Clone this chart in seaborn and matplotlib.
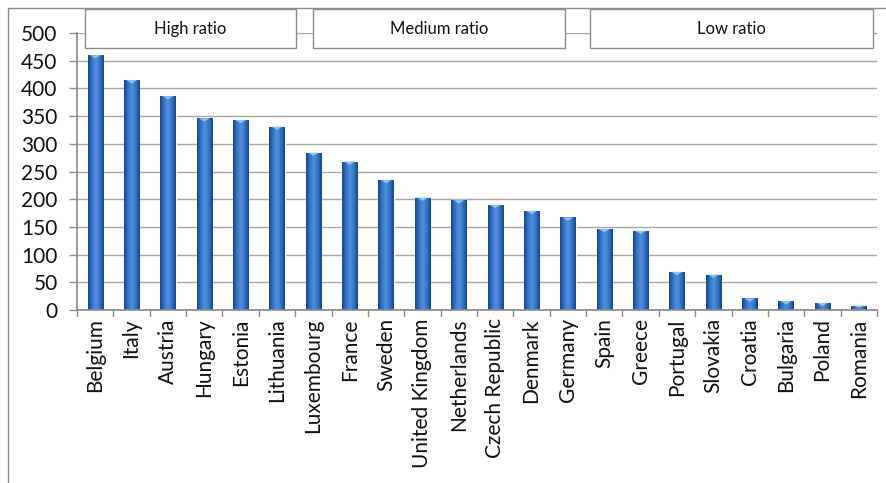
import numpy as np
import pandas as pd
import matplotlib
matplotlib.use("Agg")
import matplotlib.pyplot as plt
import seaborn as sns
from matplotlib.patches import Rectangle
from matplotlib.lines import Line2D
from matplotlib.colors import LinearSegmentedColormap

countries = ["Belgium", "Italy", "Austria", "Hungary", "Estonia", "Lithuania",
             "Luxembourg", "France", "Sweden", "United Kingdom", "Netherlands",
             "Czech Republic", "Denmark", "Germany", "Spain", "Greece", "Portugal",
             "Slovakia", "Croatia", "Bulgaria", "Poland", "Romania"]
values = [460, 415, 386, 346, 343, 331, 284, 268, 235, 203, 198, 190, 179, 167,
          146, 143, 69, 64, 21, 16, 13, 8]
y_ticks = [0, 50, 100, 150, 200, 250, 300, 350, 400, 450, 500]
group_labels = ["High ratio", "Medium ratio", "Low ratio"]
group_first = ["Belgium", "Luxembourg", "Spain"]
group_last = ["Lithuania", "Germany", "Romania"]

# layout: box edge offsets (in category units) relative to first/last bar
box_left_off = [-0.28, -0.01, -0.39]
box_right_off = [0.52, -0.08, 0.39]

df = pd.DataFrame({"country": countries, "value": values})

sns.set_theme(style="white")
plt.rcParams["font.family"] = ["Lato", "DejaVu Sans"]

fig = plt.figure(figsize=(8.87, 4.83), dpi=100)
ax = fig.add_axes([77 / 887, 1 - 310 / 483, 800 / 887, 277 / 483])

sns.barplot(data=df, x="country", y="value", color="#2A66B8", width=0.42,
            saturation=1, ax=ax, zorder=3)

# gradient shading on bars
cmap = LinearSegmentedColormap.from_list(
    "bar", ["#17468A", "#3373C8", "#5290DC", "#3373C8", "#17468A"])
grad = np.linspace(0, 1, 64).reshape(1, -1)
for p in ax.patches:
    x0, y0 = p.get_x(), p.get_y()
    w, h = p.get_width(), p.get_height()
    im = ax.imshow(grad, cmap=cmap, aspect="auto",
                   extent=(x0, x0 + w, y0, y0 + h), zorder=4)
    im.set_clip_path(p)
    cap = min(6.0, h * 0.5)
    tri = plt.Polygon([(x0 + w * 0.15, y0 + h), (x0 + w * 0.85, y0 + h),
                       (x0 + w * 0.5, y0 + h - cap)],
                      closed=True, facecolor="#8CC4F2", edgecolor="none", zorder=5)
    ax.add_patch(tri)

ax.set_xlim(-0.5, len(countries) - 0.5)
ax.set_ylim(0, 500)
ax.set_yticks(y_ticks)
ax.set_yticklabels([str(v) for v in y_ticks], fontsize=15, color="#111111")
ax.set_xlabel("")
ax.set_ylabel("")
ax.tick_params(axis="x", labelrotation=90, labelsize=15, labelcolor="#111111",
               length=0, pad=6)
ax.tick_params(axis="y", length=6, width=1, color="#8C8C8C", pad=8, left=True)

ax.grid(axis="y", color="#A6A6A6", linewidth=1.0, zorder=0)
ax.set_axisbelow(True)
for s in ["top", "right"]:
    ax.spines[s].set_visible(False)
ax.spines["left"].set_color("#8C8C8C")
ax.spines["bottom"].set_color("#8C8C8C")
ax.spines["left"].set_zorder(6)
ax.spines["bottom"].set_zorder(6)

# boundary tick marks below the x axis
trans = ax.get_xaxis_transform()
for b in np.arange(-0.5, len(countries), 1.0):
    ax.add_line(Line2D([b, b], [0, -0.02], transform=trans, color="#8C8C8C",
                       linewidth=1, clip_on=False))

# group label boxes above the plot
idx = {c: i for i, c in enumerate(countries)}
for lab, a, b, lo, ro in zip(group_labels, group_first, group_last,
                             box_left_off, box_right_off):
    left = idx[a] + lo
    right = idx[b] + ro
    rect = Rectangle((left, 473), right - left, 70, facecolor="white",
                     edgecolor="#8C8C8C", linewidth=1.0, clip_on=False, zorder=7)
    ax.add_patch(rect)
    ax.text((left + right) / 2, 508, lab, ha="center", va="center",
            fontsize=12, color="#111111", zorder=8, clip_on=False)

# outer chart frame (left and top)
fig.add_artist(Line2D([8 / 887, 8 / 887], [0, 1 - 8 / 483],
                      transform=fig.transFigure, color="#8C8C8C", linewidth=1))
fig.add_artist(Line2D([8 / 887, 1], [1 - 8 / 483, 1 - 8 / 483],
                      transform=fig.transFigure, color="#8C8C8C", linewidth=1))

fig.savefig("out.png", dpi=100)
